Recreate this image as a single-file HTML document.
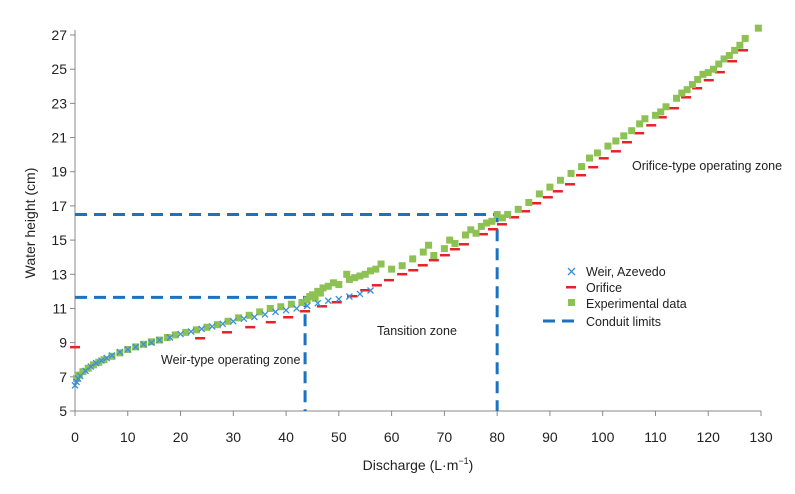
<!DOCTYPE html>
<html><head><meta charset="utf-8"><style>
body{margin:0;background:#fff;}
svg text{font-family:"Liberation Sans",sans-serif;fill:#222;}
</style></head><body>
<svg id="chart" width="795" height="489" viewBox="0 0 795 489" xmlns="http://www.w3.org/2000/svg"></svg>
<script>
const xTicks=[0,10,20,30,40,50,60,70,80,90,100,110,120,130];
const yTicks=[5,7,9,11,13,15,17,19,21,23,25,27];
const weirX=[0,0.3,0.6,1,2,3,4,5,6,7,8.5,10,11.5,13,14.5,16,18,20,22,24,26,28,30,32,34,36,38,40,42,44,46,48,50,52,54,56];
const weirY=[6.5,6.7,6.9,7.05,7.35,7.6,7.8,7.95,8.1,8.25,8.45,8.6,8.75,8.9,9.0,9.15,9.3,9.5,9.65,9.8,9.95,10.1,10.25,10.4,10.5,10.65,10.8,10.9,11.0,11.15,11.3,11.45,11.55,11.7,11.85,12.05];
const orifX=[0,23.7,28.8,33.2,37.1,40.4,43.6,46.8,49.6,52.5,55.0,57.2,59.5,62.0,64.1,65.9,68.0,70.1,72.0,73.7,77.3,79.2,80.9,83.2,85.3,87.4,89.6,91.5,93.8,95.9,98.2,100.2,102.5,104.6,106.9,109.2,111.2,113.5,115.8,117.9,120.1,122.2,124.5,126.6];
const orifY=[8.75,9.27,9.62,9.92,10.21,10.5,10.85,11.14,11.38,11.73,12.08,12.37,12.67,13.02,13.25,13.54,13.84,14.13,14.48,14.77,15.36,15.65,15.94,16.35,16.7,17.17,17.52,17.87,18.28,18.81,19.28,19.8,20.21,20.74,21.27,21.73,22.2,22.73,23.37,23.9,24.37,24.84,25.48,26.12];
const expX=[0.3,0.8,1.5,2.5,3.5,4.5,5.5,7,8.5,10,11.5,13,14.5,16,17.5,19,21,23,25,27,29,31,33,35,37,39,41,43,44,44.5,45,45.5,46,46.5,47,48,49,50,51.5,52,53,54,55,56,57,58,60,62,64,66,67,68,70,71,72,74,75,76,77,78,79,80,81,82,84,86,88,90,92,94,96,97.5,99,101,102.5,104,105.5,107,108,110,111,112,114,115,116,117,118,119,120,121,122,123,124,125,126,127,129.5];
const expY=[6.9,7.1,7.3,7.5,7.7,7.85,8.0,8.2,8.4,8.6,8.75,8.9,9.05,9.15,9.3,9.45,9.6,9.75,9.9,10.05,10.25,10.45,10.6,10.8,11.0,11.1,11.25,11.35,11.5,11.7,11.8,11.6,12.0,11.9,12.2,12.3,12.5,12.4,13.0,12.7,12.8,12.9,13.0,13.2,13.3,13.6,13.3,13.5,13.9,14.3,14.7,14.1,14.5,15.0,14.8,15.3,15.6,15.4,15.8,16.0,16.1,16.5,16.3,16.5,16.8,17.2,17.7,18.1,18.5,18.9,19.3,19.8,20.1,20.5,20.8,21.1,21.4,21.8,22.1,22.3,22.5,22.8,23.3,23.6,23.8,24.1,24.4,24.7,24.8,25.0,25.3,25.6,25.8,26.1,26.4,26.8,27.4];
const limitQ=[43.6,80];
const limitH=[11.65,16.5];

const NS="http://www.w3.org/2000/svg";
const svg=document.getElementById('chart');
const X0=75,X1=761,Y0=411,Y1=35;
const sx=v=>X0+(v-0)/(130-0)*(X1-X0);
const sy=v=>Y0-(v-5)/(27-5)*(Y0-Y1);
function mk(tag,attrs,parent){const e=document.createElementNS(NS,tag);for(const k in attrs)e.setAttribute(k,attrs[k]);(parent||svg).appendChild(e);return e;}

// axes
let ax=mk('line',{x1:X0,y1:Y1-5,x2:X0,y2:Y0,stroke:'#888','stroke-width':1});


let axx=mk('line',{x1:X0,y1:Y0,x2:X1,y2:Y0,stroke:'#888','stroke-width':1});


xTicks.forEach(t=>{
  const tk=mk('line',{x1:sx(t),y1:Y0,x2:sx(t),y2:Y0+5,stroke:'#888'});
  
  
  const tx=mk('text',{x:sx(t),y:442,'text-anchor':'middle','font-size':14});
  tx.textContent=t;
  
  
});
yTicks.forEach(t=>{
  const tk=mk('line',{x1:X0-5,y1:sy(t),x2:X0,y2:sy(t),stroke:'#888'});
  
  
  const tx=mk('text',{x:67,y:sy(t)+5,'text-anchor':'end','font-size':14});
  tx.textContent=t;
  
  
});
let xt=mk('text',{x:418,y:470,'text-anchor':'middle','font-size':14});
xt.innerHTML='Discharge (L·m<tspan font-size="9" dy="-6">−1</tspan><tspan dy="6">)</tspan>';


let yt=mk('text',{x:0,y:0,'text-anchor':'middle','font-size':14,transform:'translate(35,223) rotate(-90)'});
yt.textContent='Water height (cm)';



// conduit limits
limitQ.forEach((q,i)=>{
  const g=mk('path',{d:`M${X0},${sy(limitH[i])}H${sx(q)}V${Y0}`,fill:'none',stroke:'#1a72c0','stroke-width':3,'stroke-dasharray':'12,7'});
  
  
});
// orifice
orifX.forEach((q,i)=>{
  const r=mk('rect',{x:sx(q)-5,y:sy(orifY[i])-1,width:10,height:2.5,fill:'#e8202a'});
  
  
});
// experimental
expX.forEach((q,i)=>{
  const r=mk('rect',{x:sx(q)-3.5,y:sy(expY[i])-3.5,width:7,height:7,fill:'#8dc153'});
  
  
});
// weir
weirX.forEach((q,i)=>{
  const cx=sx(q),cy=sy(weirY[i]);
  const p=mk('path',{d:`M${cx-3},${cy-3}L${cx+3},${cy+3}M${cx-3},${cy+3}L${cx+3},${cy-3}`,stroke:'#3a8fd8','stroke-width':1.3});
  
  
});

// annotations
[['Weir-type operating zone',161,364,'weir-zone-label'],['Tansition zone',377,335,'transition-zone-label'],['Orifice-type operating zone',632,170,'orifice-zone-label']].forEach(a=>{
  const t=mk('text',{x:a[1],y:a[2],'font-size':12.5});
  t.textContent=a[0];
  
  
});

// legend
const lg=mk('g',{});


let p1=mk('path',{d:'M568,268L575,275M568,275L575,268',stroke:'#3a8fd8','stroke-width':1.3},lg);
let p2=mk('rect',{x:566,y:286,width:10,height:2.5,fill:'#e8202a'},lg);
let p3=mk('rect',{x:568,y:299,width:7,height:7,fill:'#8dc153'},lg);
let p4=mk('line',{x1:543,y1:321,x2:581,y2:321,stroke:'#1a72c0','stroke-width':3,'stroke-dasharray':'12,7'},lg);
[['Weir, Azevedo',276],['Orifice',292],['Experimental data',308],['Conduit limits',326]].forEach(a=>{
  const t=mk('text',{x:586,y:a[1],'font-size':12.5},lg);
  t.textContent=a[0];
  
  
});
</script>
</body></html>
